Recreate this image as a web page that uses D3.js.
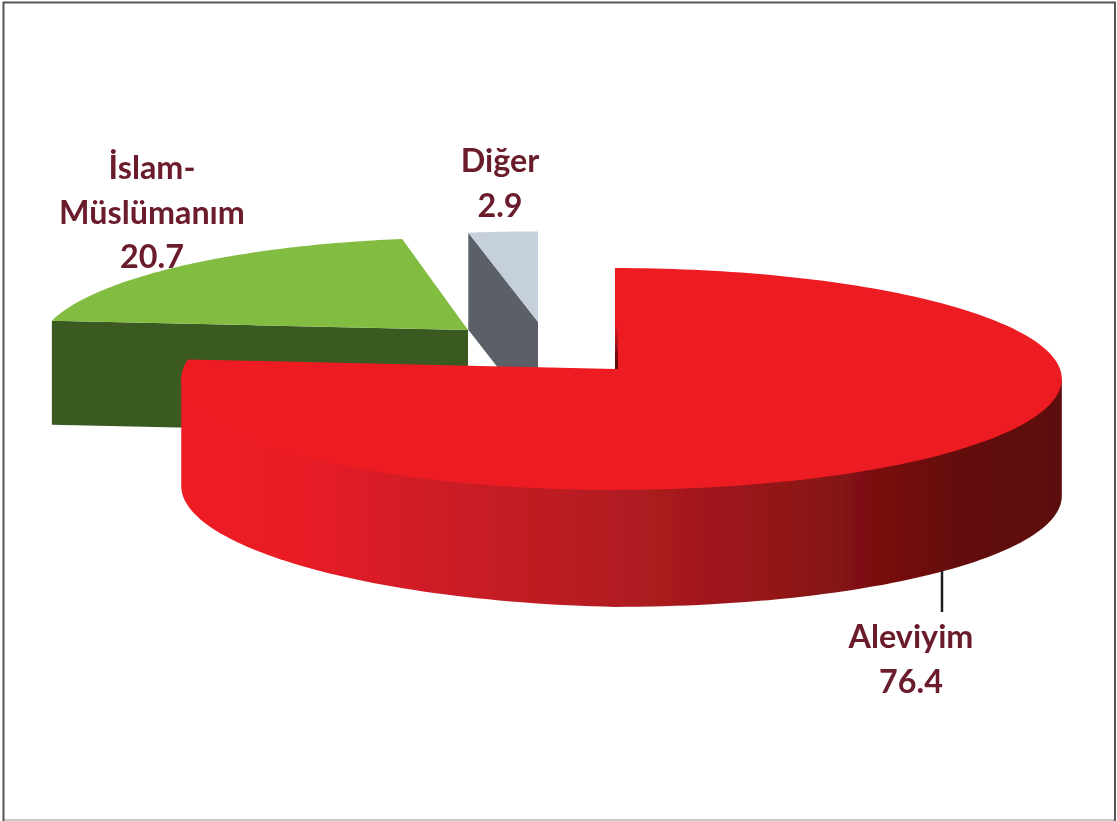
<!DOCTYPE html>
<html><head><meta charset="utf-8">
<style>html,body{margin:0;padding:0;background:#fff}svg{display:block}text{font-family:Lato,"Open Sans",sans-serif;font-weight:700;fill:#6a1a2b;text-anchor:middle}</style>
<script src="https://cdn.jsdelivr.net/npm/d3@7/dist/d3.min.js"></script>
</head><body><svg id="c" width="1117" height="821"></svg>
<script>
const categories = ["Aleviyim", "İslam-Müslümanım", "Diğer"];
const values = [76.4, 20.7, 2.9];
const labelLines = [["Aleviyim", "76.4"], ["İslam-", "Müslümanım", "20.7"], ["Diğer", "2.9"]];

// drawing geometry, kept apart from the data
const W = 1117, H = 821;
const geom = [
  {ax:615, ay:369, rR:445, rL:432, b:110, k:.09, depth:117, top:"#ed1c24"},
  {ax:468, ay:330, rR:424, rL:424, b:108, k:.17, depth:104, top:"#82bc41", side:"#3b5a24"},
  {ax:538, ay:322, rR:449, rL:449, b:106, k:.17, depth:97,  top:"#c6cfdc", side:"#5a5f68"}
];
const labelPos = [{x:911, y:648}, {x:152, y:179}, {x:500, y:172}];
const lineGap = 44.5, fontSize = 32.3;

const svg = d3.select("#c");
const defs = svg.append("defs");
defs.append("filter").attr("id","soft").append("feGaussianBlur").attr("stdDeviation",.55);
const wallStops = [[185,"#ed1c24"],[300,"#ea1d25"],[420,"#d01f27"],[600,"#b51c22"],[800,"#8e1517"],[960,"#640a0a"],[1060,"#5c0808"]];
const xPct = d3.scaleLinear().domain([185,1060]).range([0,100]);
const grad = defs.append("linearGradient").attr("id","wall").attr("gradientUnits","userSpaceOnUse")
  .attr("x1",185).attr("x2",1060).attr("y1",0).attr("y2",0);
wallStops.forEach(s=>grad.append("stop").attr("offset",xPct(s[0])+"%").attr("stop-color",s[1]));
const inner = defs.append("linearGradient").attr("id","inner").attr("x1",0).attr("x2",0).attr("y1",0).attr("y2",1);
inner.append("stop").attr("offset","0%").attr("stop-color","#ed1c24");
inner.append("stop").attr("offset","100%").attr("stop-color","#4a0808");

svg.append("rect").attr("width",W).attr("height",H).attr("fill","#fff");
const g = svg.append("g").attr("filter","url(#soft)");

const arcs = d3.pie().sort(null).startAngle(0).endAngle(2*Math.PI)(values);

// perspective projection of a rim point at angle t (clockwise from the far side)
function project(p, t, drop=0){
  const c = Math.cos(t), s = Math.sin(t), sc = 1/(1+p.k*c);
  return [p.ax + sc*s*(s>0?p.rR:p.rL), p.ay - sc*c*p.b + drop];
}
function sweep(p, a, b, drop=0, n=80){
  return d3.range(n+1).map(i=>project(p, a+(b-a)*i/n, drop));
}
const line = d3.line();

function flatSlice(p, d){
  const edge = project(p, d.startAngle);
  g.append("path").attr("fill",p.side)
    .attr("d", line([edge,[p.ax,p.ay],[p.ax,p.ay+p.depth],[edge[0],edge[1]+p.depth]])+"Z");
  g.append("path").attr("fill",p.top)
    .attr("d", line([[p.ax,p.ay],...sweep(p,d.startAngle,d.endAngle)])+"Z");
}
flatSlice(geom[1], arcs[1]);
flatSlice(geom[2], arcs[2]);

// red slice
{
  const p = geom[0], d = arcs[0];
  const tR = Math.acos(-p.k), tL = 2*Math.PI-tR;
  const lower = sweep(p,tL,tR,0,120).map((q,i)=>{
    const t = tL+(tR-tL)*i/120, s = Math.sin(t);
    return [q[0], q[1]+p.depth+(s<0?10*s:0)];
  });
  g.append("path").attr("fill","url(#wall)")
    .attr("d", line([project(p,tR),[p.ax,p.ay],project(p,tL),...lower])+"Z");
  const rim = sweep(p,d.startAngle,d.endAngle,0,200);
  g.append("path").attr("fill",p.top).attr("d", line([[p.ax,p.ay],...rim])+"Z");
  g.append("rect").attr("x",p.ax).attr("y",p.ay-45).attr("width",3).attr("height",45).attr("fill","url(#inner)");
}
// leader line
g.append("line").attr("x1",942).attr("x2",942).attr("y1",571).attr("y2",612).attr("stroke","#1c1c1c").attr("stroke-width",2.5);

// labels
labelLines.forEach((lines,i)=>{
  const t = g.append("text").attr("font-size",fontSize);
  lines.forEach((s,j)=>t.append("tspan").attr("x",labelPos[i].x).attr("y",labelPos[i].y+j*lineGap).text(s));
});

// frame
svg.append("line").attr("x1",3).attr("x2",1116).attr("y1",820).attr("y2",820).attr("stroke","#c8c8c8").attr("stroke-width",2);
svg.append("path").attr("fill","none").attr("stroke","#555").attr("stroke-width",2)
  .attr("d",line([[3.5,821],[3.5,2.5],[1115,2.5],[1115,821]]));
</script></body></html>
